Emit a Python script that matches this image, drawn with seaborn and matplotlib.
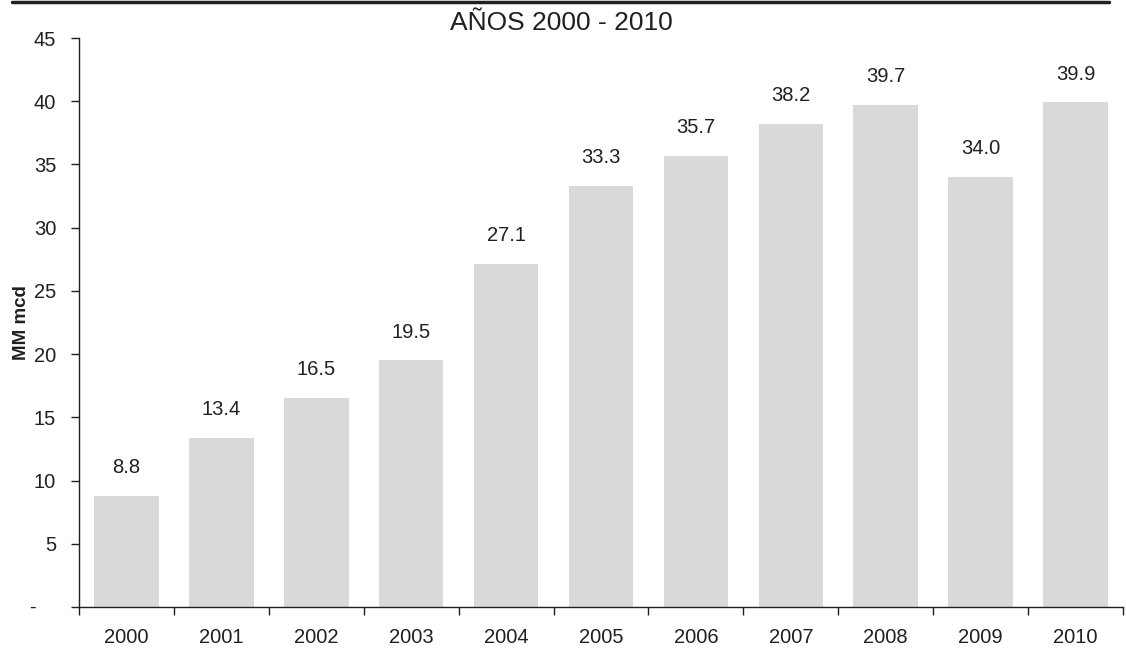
import matplotlib
matplotlib.use("Agg")
import matplotlib.pyplot as plt
from matplotlib.lines import Line2D
import seaborn as sns
import pandas as pd
import numpy as np

years = ["2000", "2001", "2002", "2003", "2004", "2005", "2006", "2007", "2008", "2009", "2010"]
values = [8.8, 13.4, 16.5, 19.5, 27.1, 33.3, 35.7, 38.2, 39.7, 34.0, 39.9]
yticks = [0, 5, 10, 15, 20, 25, 30, 35, 40, 45]
ytick_labels = ["", "5", "10", "15", "20", "25", "30", "35", "40", "45"]
zero_label = "-"
title = "AÑOS 2000 - 2010"
ylabel = "MM mcd"

sns.set_style("white")
plt.rcParams['font.family'] = ['Liberation Sans', 'DejaVu Sans']

TXT = "#231f20"
FS = 14.5

df = pd.DataFrame({"year": years, "value": values})

fig = plt.figure(figsize=(11.26, 6.5), dpi=100)
ax = fig.add_axes([79/1126, 1-607/650, (1123-79)/1126, (607-38)/650])

sns.barplot(data=df, x="year", y="value", order=years, color="#d9d9db",
            saturation=1, width=0.68, ax=ax, edgecolor="none")

ax.set_ylim(0, 45)
ax.set_xlim(-0.5, len(years) - 0.5)
ax.set_yticks(yticks)
ax.set_yticklabels(ytick_labels, fontsize=FS, color=TXT)
ax.set_xticks(range(len(years)))
ax.set_xticklabels(years, fontsize=FS, color=TXT)
ax.tick_params(axis="x", which="major", length=0, pad=15, bottom=True)
ax.set_xticks(np.arange(-0.5, len(years), 1.0), minor=True)
ax.tick_params(axis="x", which="minor", bottom=True, length=6, width=1,
               direction="out", color=TXT)
ax.tick_params(axis="y", left=True, length=6, width=1, direction="out",
               color=TXT, pad=10.5)

# zero label shown as a dash, placed further left as in the reference
ax.text(-(79-32)/1044, 0, zero_label, transform=ax.get_yaxis_transform(),
        ha="center", va="center", fontsize=FS, color=TXT)

for s in ["top", "right"]:
    ax.spines[s].set_visible(False)
for s in ["left", "bottom"]:
    ax.spines[s].set_color(TXT)
    ax.spines[s].set_linewidth(1)

ax.set_xlabel("")
ax.set_ylabel(ylabel, fontsize=13.5, fontweight="bold", color=TXT)
ax.yaxis.set_label_coords(-(79-21)/1044, 0.5)
ax.yaxis.label.set_verticalalignment("center")

for i, v in enumerate(values):
    ax.annotate(f"{v:.1f}", (i, v), xytext=(0, 16.5), textcoords="offset points",
                ha="center", va="baseline", fontsize=FS, color=TXT)

fig.text(561/1126, 1-23/650, title, ha="center", va="center", fontsize=19, color=TXT)
fig.add_artist(Line2D([12/1126, 1109/1126], [1-1.5/650, 1-1.5/650], transform=fig.transFigure,
                      color=TXT, linewidth=2.5))

fig.savefig("out.png", dpi=100)
